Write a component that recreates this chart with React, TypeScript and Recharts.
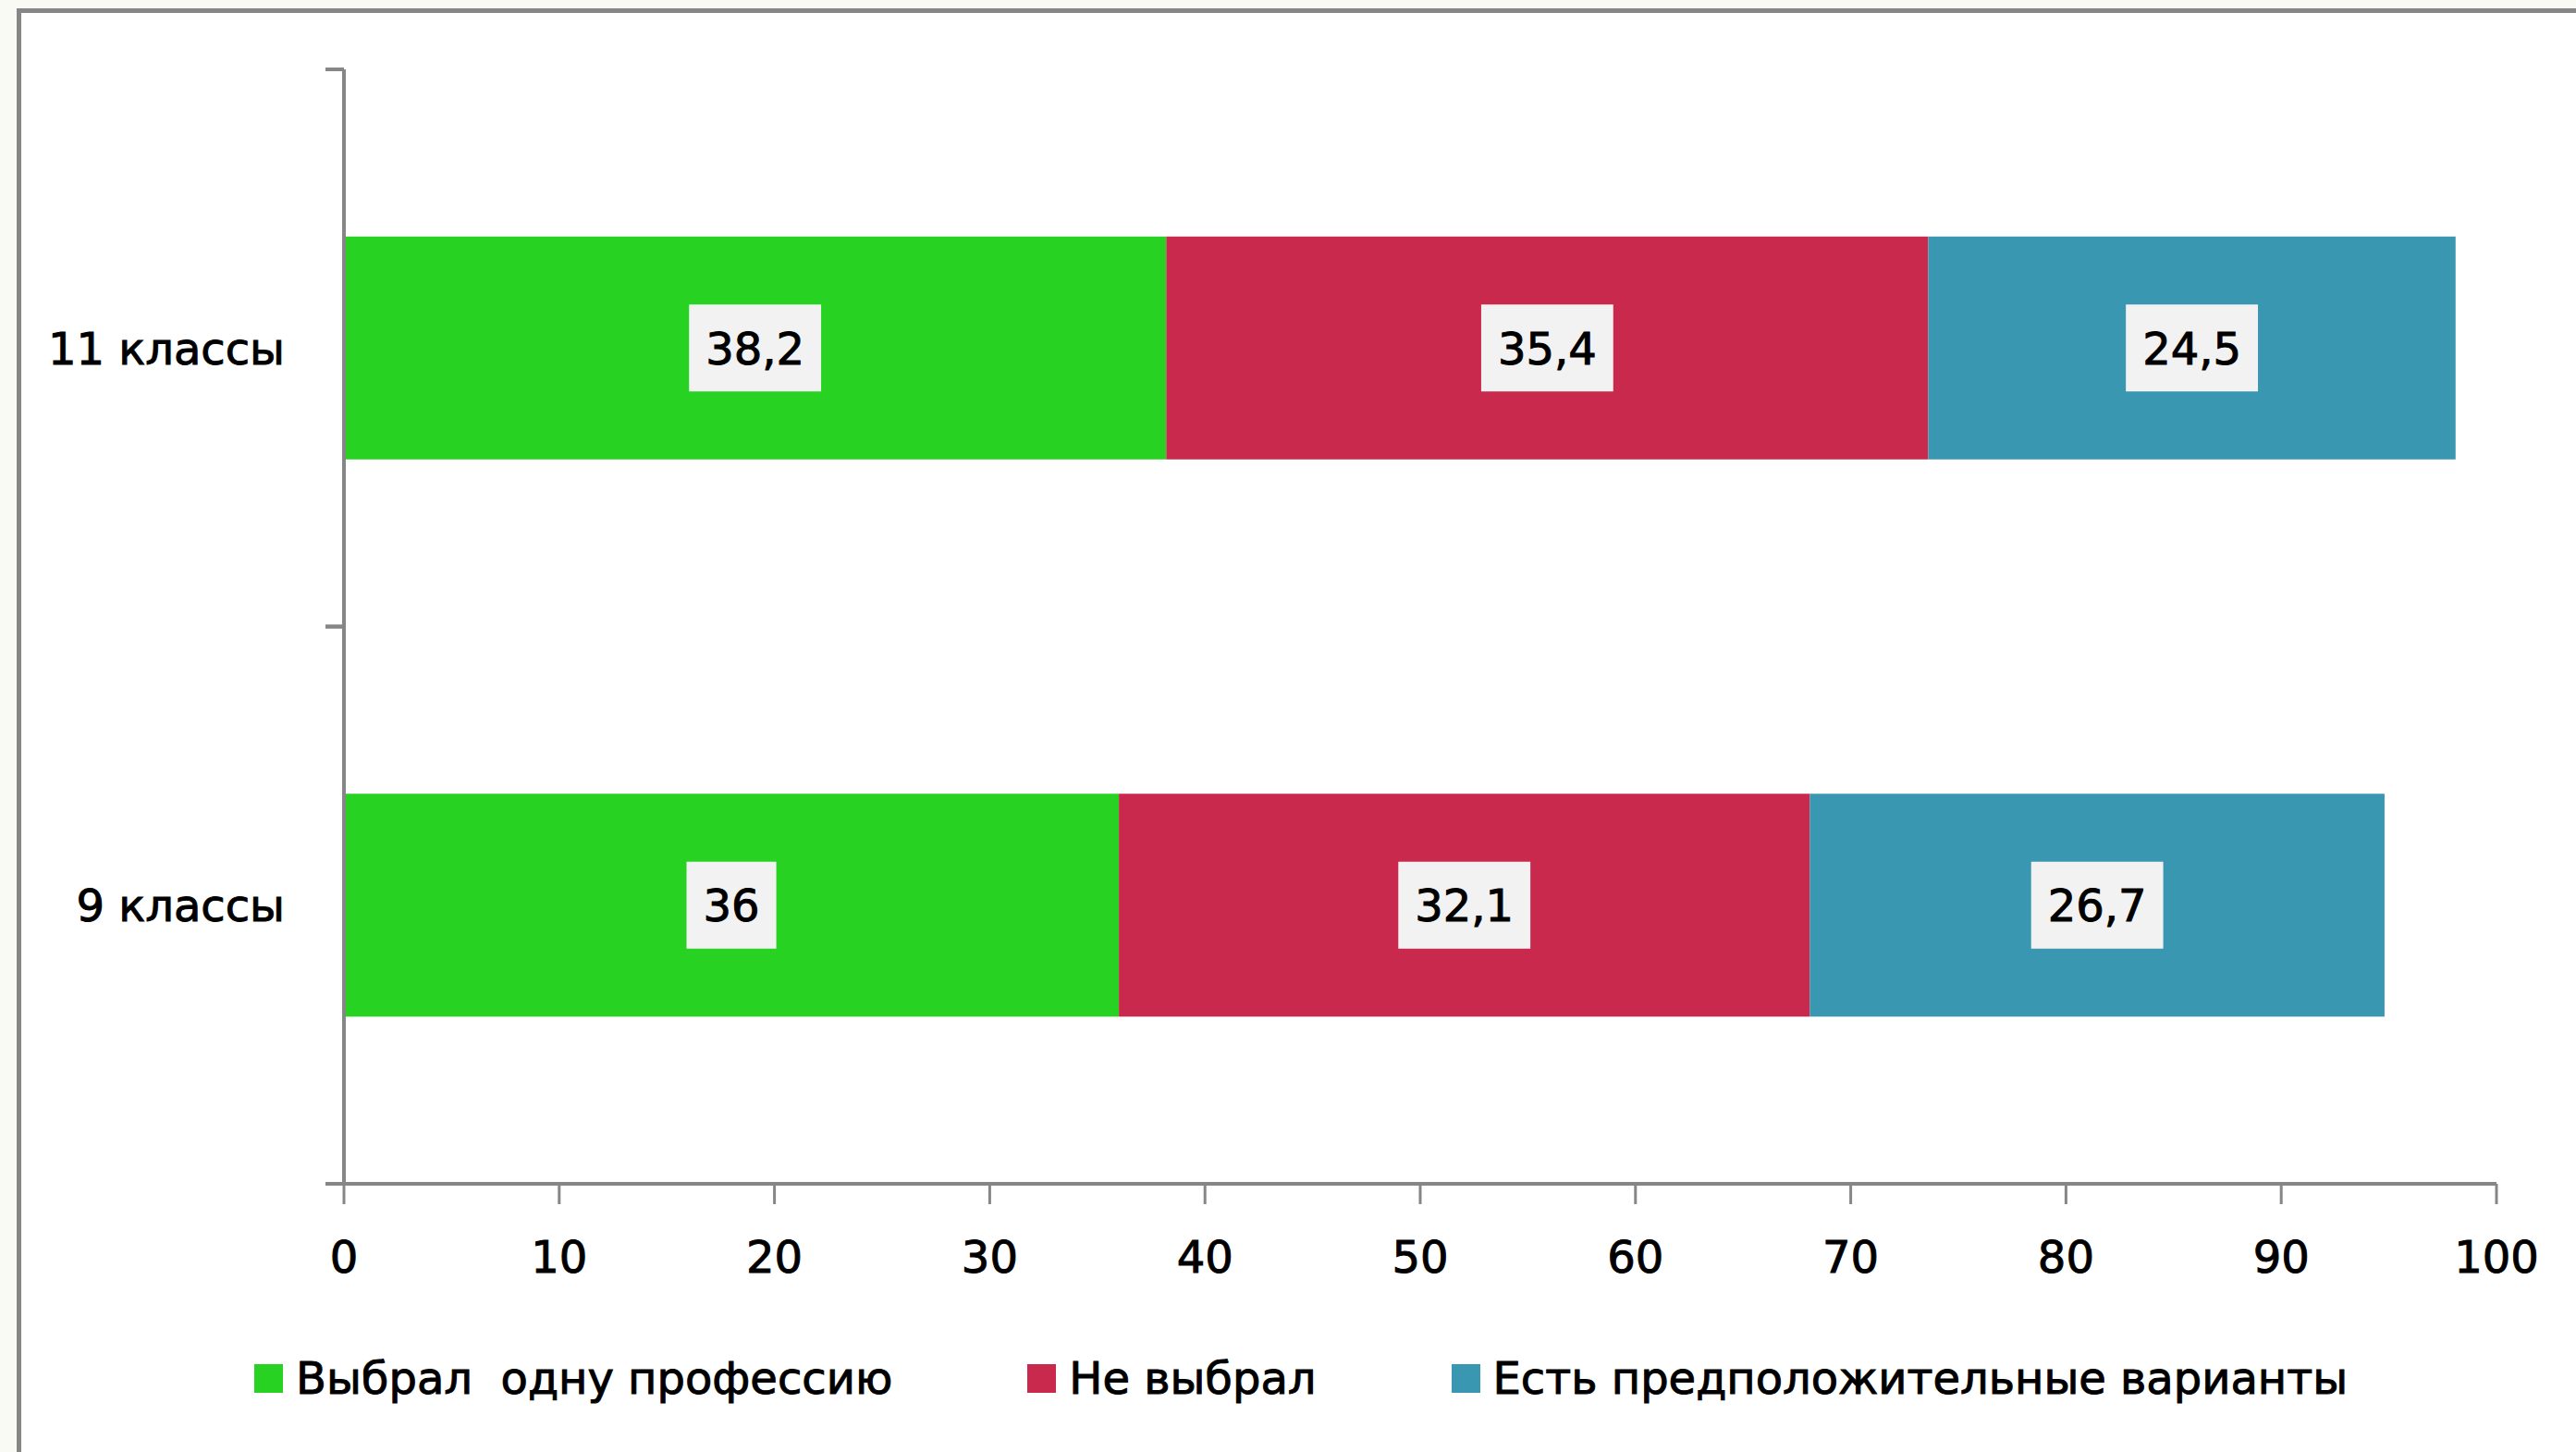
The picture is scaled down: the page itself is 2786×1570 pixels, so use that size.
import React from "react";
import { BarChart, Bar, XAxis, YAxis, LabelList, Legend } from "recharts";

// classes (top to bottom)
const categories = ["11 классы", "9 классы"];
// % of pupils
const choseOne = [38.2, 36];
const notChosen = [35.4, 32.1];
const someOptions = [24.5, 26.7];

const seriesKeys = ["one", "none", "some"];
const seriesNames = [
  "Выбрал  одну профессию",
  "Не выбрал",
  "Есть предположительные варианты",
];
const seriesColors = ["#28D222", "#C8294D", "#3A97B2"];
const xTicks = [0, 10, 20, 30, 40, 50, 60, 70, 80, 90, 100];

const data = categories.map((name, i) => ({
  name,
  one: choseOne[i],
  none: notChosen[i],
  some: someOptions[i],
}));

const W = 2786;
const H = 1570;
const FONT = "'DejaVu Sans', Verdana, sans-serif";
const FS = 48;
const AXIS = "#868686";
const YAXIS_W = 372;
const Y_TICK_MARGIN = 64;
const TEXT_STROKE = 1;

const fmt = (v: number) => String(v).replace(".", ",");

const CategoryTick = (props: any) => {
  const { x, y, payload } = props;
  const half = payload.offset ?? 0;
  const ax = x + Y_TICK_MARGIN;
  return (
    <g>
      <text
        x={x}
        y={y + FS * 0.36}
        textAnchor="end"
        fontFamily={FONT}
        fontSize={FS}
        fill="#000"
        stroke="#000"
        strokeWidth={TEXT_STROKE}
      >
        {payload.value}
      </text>
      <line x1={ax - 20} x2={ax} y1={y - half} y2={y - half} stroke={AXIS} strokeWidth={4} />
      <line x1={ax - 20} x2={ax} y1={y + half} y2={y + half} stroke={AXIS} strokeWidth={4} />
    </g>
  );
};

const ValueLabel = (props: any) => {
  const { x, y, width, height, value } = props;
  const text = fmt(value);
  const tw = text.split("").reduce((s, c) => s + (c === "," ? 0.318 : 0.636), 0) * FS;
  const bw = tw + 36;
  const bh = 94;
  const cx = x + width / 2;
  const cy = y + height / 2;
  return (
    <g>
      <rect x={cx - bw / 2} y={cy - bh / 2} width={bw} height={bh} fill="#F2F2F2" />
      <text
        x={cx}
        y={cy + FS * 0.36}
        textAnchor="middle"
        fontFamily={FONT}
        fontSize={FS}
        fill="#000"
        stroke="#000"
        strokeWidth={TEXT_STROKE}
      >
        {text}
      </text>
    </g>
  );
};

const LegendContent = () => (
  <div
    style={{
      height: 60,
      display: "flex",
      alignItems: "center",
      paddingLeft: 275,
      gap: 146,
      fontFamily: FONT,
      fontSize: FS,
      color: "#000",
      whiteSpace: "pre",
      WebkitTextStroke: `${TEXT_STROKE}px #000`,
    }}
  >
    {seriesNames.map((n, i) => (
      <div key={n} style={{ display: "flex", alignItems: "center" }}>
        <span style={{ width: 31, height: 31, background: seriesColors[i], marginRight: 14 }} />
        <span style={{ lineHeight: "60px" }}>{n}</span>
      </div>
    ))}
  </div>
);

export default function App() {
  return (
    <div
      style={{
        position: "absolute",
        left: 0,
        top: 0,
        width: W,
        height: H,
        background: "#FAFAF4",
        overflow: "hidden",
      }}
    >
      <div
        style={{
          position: "absolute",
          left: 18,
          top: 9,
          right: -20,
          bottom: -20,
          background: "#fff",
          borderLeft: `5px solid ${AXIS}`,
          borderTop: `5px solid ${AXIS}`,
        }}
      />
      <div style={{ position: "absolute", left: 0, top: 0 }}>
        <BarChart
          width={W}
          height={H}
          data={data}
          layout="vertical"
          barCategoryGap="30%"
          margin={{ top: 75, right: 86, left: 0, bottom: 50 }}
        >
          <XAxis
            type="number"
            domain={[0, 100]}
            ticks={xTicks}
            interval={0}
            height={180}
            tickSize={22}
            tickMargin={40}
            axisLine={{ stroke: AXIS, strokeWidth: 4 }}
            tickLine={{ stroke: AXIS, strokeWidth: 3 }}
            tick={{ fill: "#000", fontSize: FS, fontFamily: FONT, stroke: "#000", strokeWidth: TEXT_STROKE }}
          />
          <YAxis
            type="category"
            dataKey="name"
            width={YAXIS_W}
            tickSize={0}
            tickMargin={Y_TICK_MARGIN}
            tickLine={false}
            axisLine={{ stroke: AXIS, strokeWidth: 4 }}
            tick={<CategoryTick />}
          />
          <Legend verticalAlign="bottom" wrapperStyle={{ left: 0, width: W }} content={<LegendContent />} />
          {seriesKeys.map((k, i) => (
            <Bar
              key={k}
              dataKey={k}
              name={seriesNames[i]}
              stackId="a"
              fill={seriesColors[i]}
              isAnimationActive={false}
            >
              <LabelList dataKey={k} content={<ValueLabel />} />
            </Bar>
          ))}
        </BarChart>
      </div>
    </div>
  );
}
